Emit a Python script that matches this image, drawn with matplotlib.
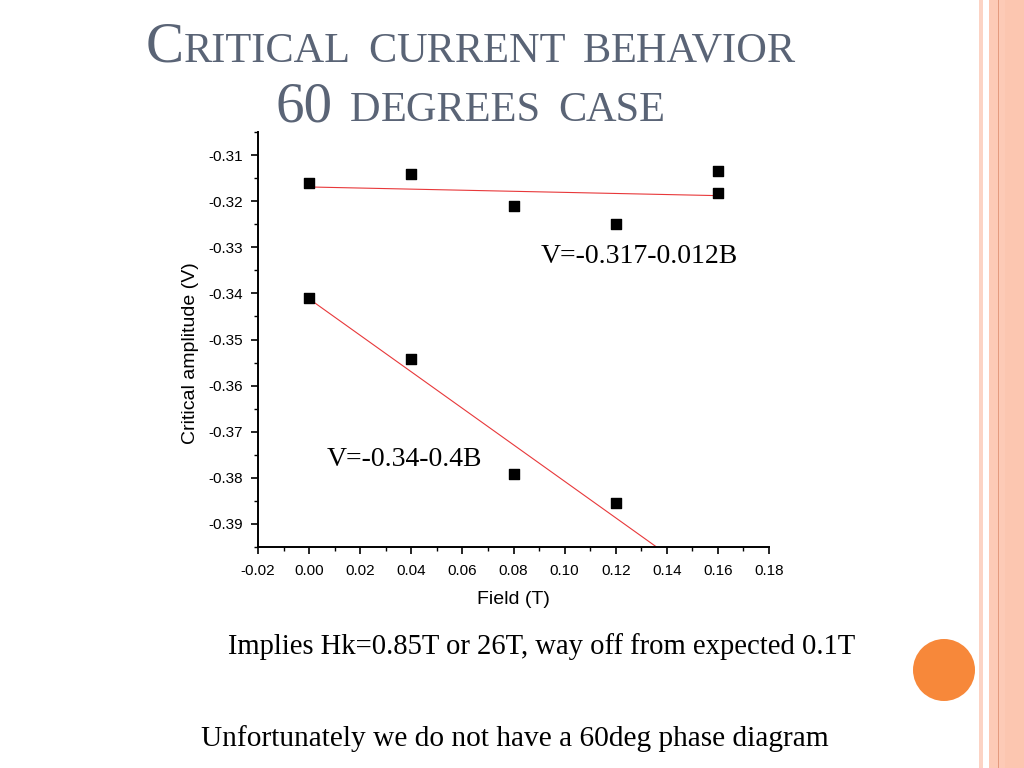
import numpy as np
import matplotlib
matplotlib.use("Agg")
import matplotlib.pyplot as plt
from matplotlib.patches import Rectangle, Circle
from matplotlib.ticker import MultipleLocator, FormatStrFormatter

# Data
field_upper = [0.00, 0.04, 0.08, 0.12, 0.16, 0.16]
amp_upper = [-0.3161, -0.3141, -0.3211, -0.3250, -0.3135, -0.3183]

field_lower = [0.00, 0.04, 0.08, 0.12]
amp_lower = [-0.3409, -0.3543, -0.3791, -0.3854]

fit_range = [0.00, 0.16]

label_upper = "V=-0.317-0.012B"
label_lower = "V=-0.34-0.4B"
title_lines = [["C", "ritical", " ", "c", "urrent", " ", "b", "ehavior"],
               ["60", " ", "d", "egrees", " ", "c", "ase"]]
note_1 = "Implies Hk=0.85T or 26T, way off from expected 0.1T"
note_2 = "Unfortunately we do not have a 60deg phase diagram"

plt.rcParams["axes.unicode_minus"] = False

W, H = 1024, 768
fig = plt.figure(figsize=(W / 100, H / 100), dpi=100)
fig.patch.set_facecolor("white")

# Decorative right-hand stripes and orange dot
deco = fig.add_axes([0, 0, 1, 1])
deco.set_xlim(0, W)
deco.set_ylim(H, 0)
deco.axis("off")
deco.add_patch(Rectangle((979, 0), 4, H, color="#fcd3c4", lw=0))
deco.add_patch(Rectangle((989, 0), 35, H, color="#fdcab6", lw=0))
deco.add_patch(Rectangle((997.5, 0), 1.2, H, color="#e49a7e", lw=0))
deco.add_patch(Rectangle((1005, 0), 19, H, color="#fcc6b0", lw=0))
deco.add_patch(Circle((944, 670), 31, color="#f7883a", lw=0))

# Title in small caps
serif = ["Liberation Serif", "DejaVu Serif"]
title_color = "#5a6476"
big, small = 41, 30.5
baselines = [62, 121]
center_x = 471

def draw_smallcaps(parts, y_px):
    texts = []
    for p in parts:
        if p == " ":
            texts.append(None)
            continue
        is_big = p[0].isupper() or p[0].isdigit()
        t = fig.text(0, 1 - y_px / H, p.upper(), fontsize=big if is_big else small,
                     family=serif, color=title_color, va="baseline", ha="left")
        texts.append(t)
    return texts

fig.canvas.draw()
renderer = fig.canvas.get_renderer()
for parts, y in zip(title_lines, baselines):
    texts = draw_smallcaps(parts, y)
    gap = 17
    widths = [gap if t is None else t.get_window_extent(renderer).width for t in texts]
    x = center_x - sum(widths) / 2
    for t, w in zip(texts, widths):
        if t is not None:
            t.set_x(x / W)
        x += w

# Chart
ax = fig.add_axes([258 / W, 1 - 547 / H, (769 - 258) / W, (547 - 132) / H])
ax.scatter(field_upper, amp_upper, marker="s", s=50, color="black", zorder=3)
ax.scatter(field_lower, amp_lower, marker="s", s=50, color="black", zorder=3)

xs = np.array(fit_range)
for fx, fy in [(field_upper, amp_upper), (field_lower, amp_lower)]:
    k, b = np.polyfit(fx, fy, 1)
    ax.plot(xs, k * xs + b, color="#e8383a", lw=0.8, zorder=2)

ax.set_xlim(-0.02, 0.18)
ax.set_ylim(-0.395, -0.305)
ax.xaxis.set_major_locator(MultipleLocator(0.02))
ax.xaxis.set_minor_locator(MultipleLocator(0.01))
ax.yaxis.set_major_locator(MultipleLocator(0.01))
ax.yaxis.set_minor_locator(MultipleLocator(0.005))
ax.xaxis.set_major_formatter(FormatStrFormatter("%.2f"))
ax.yaxis.set_major_formatter(FormatStrFormatter("%.2f"))
ax.tick_params(which="major", direction="out", length=5, width=1.2, labelsize=11)
ax.tick_params(axis="y", which="major", pad=6)
ax.tick_params(axis="x", which="major", pad=7)
ax.tick_params(which="minor", direction="out", length=3, width=1.0)
for lab in ax.get_xticklabels() + ax.get_yticklabels():
    lab.set_family("Liberation Sans")

for side in ["top", "right"]:
    ax.spines[side].set_visible(False)
for side in ["left", "bottom"]:
    ax.spines[side].set_linewidth(1.4)

ax.set_xlabel("Field (T)", family="Liberation Sans", fontsize=14)
ax.set_ylabel("Critical amplitude (V)", family="Liberation Sans", fontsize=14)
ax.xaxis.set_label_coords(0.5, -0.105)
ax.yaxis.set_label_coords(-0.115, 0.467)

ax.text(0.0905, -0.3335, label_upper, family=serif, fontsize=20, color="black",
        ha="left", va="baseline")
ax.text(0.0070, -0.3775, label_lower, family=serif, fontsize=20, color="black",
        ha="left", va="baseline")

# Notes under the chart
fig.text(542 / W, 1 - 654 / H, note_1, family=serif, fontsize=20.6,
         ha="center", va="baseline")
fig.text(515 / W, 1 - 746 / H, note_2, family=serif, fontsize=21.2,
         ha="center", va="baseline")

fig.savefig("out.png", dpi=100)
